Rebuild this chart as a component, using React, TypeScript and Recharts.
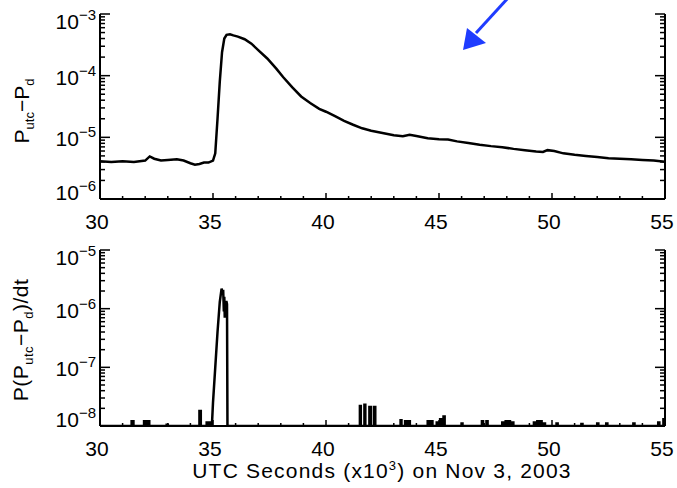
import React from "react";
import { LineChart, Line, XAxis, YAxis } from "recharts";

const FONT = "'Liberation Sans', Arial, Helvetica, sans-serif";

// top panel: P_utc - P_d (time in 10^3 s, value)
const flux: [number, number][] = [
  [30.0, 4.1e-6], [30.5, 4.0e-6], [31.0, 4.1e-6], [31.5, 4.0e-6], [32.0, 4.2e-6],
  [32.2, 4.9e-6], [32.4, 4.5e-6], [32.7, 4.2e-6], [33.0, 4.3e-6], [33.4, 4.4e-6],
  [33.7, 4.2e-6], [34.0, 3.8e-6], [34.2, 3.6e-6], [34.4, 3.7e-6], [34.6, 3.9e-6],
  [34.8, 3.9e-6], [35.0, 4.2e-6], [35.1, 5.5e-6], [35.2, 2.0e-5], [35.3, 8.0e-5],
  [35.4, 2.4e-4], [35.5, 4.0e-4], [35.6, 4.6e-4], [35.75, 4.7e-4], [35.9, 4.5e-4],
  [36.1, 4.3e-4], [36.4, 3.9e-4], [36.7, 3.3e-4], [37.0, 2.6e-4], [37.4, 1.9e-4],
  [37.8, 1.3e-4], [38.1, 9.5e-5], [38.5, 6.5e-5], [38.9, 4.6e-5], [39.3, 3.6e-5],
  [39.7, 2.9e-5], [40.0, 2.6e-5], [40.4, 2.2e-5], [40.8, 1.85e-5], [41.2, 1.6e-5],
  [41.6, 1.4e-5], [42.0, 1.28e-5], [42.5, 1.18e-5], [43.0, 1.08e-5], [43.4, 1.04e-5],
  [43.7, 1.1e-5], [44.0, 1.05e-5], [44.5, 9.7e-6], [45.0, 9.3e-6], [45.4, 9.2e-6],
  [45.8, 8.6e-6], [46.3, 8.1e-6], [46.8, 7.6e-6], [47.3, 7.2e-6], [47.8, 6.9e-6],
  [48.3, 6.5e-6], [48.8, 6.2e-6], [49.3, 5.9e-6], [49.6, 5.8e-6], [49.8, 6.2e-6],
  [50.1, 6.0e-6], [50.5, 5.5e-6], [51.0, 5.2e-6], [51.5, 5.0e-6], [52.0, 4.8e-6],
  [52.5, 4.6e-6], [53.0, 4.5e-6], [53.5, 4.4e-6], [54.0, 4.3e-6], [54.5, 4.2e-6],
  [55.0, 4.0e-6],
];

// bottom panel: derivative, main burst drawn as a continuous trace
const burst: [number, number][] = [
  [34.95, 1e-8], [35.0, 2.5e-8], [35.1, 1.0e-7], [35.2, 4.0e-7], [35.3, 1.3e-6],
  [35.38, 2.2e-6], [35.42, 1.8e-6], [35.45, 2.1e-6], [35.48, 9.0e-7], [35.5, 1.6e-6],
  [35.52, 7.0e-7], [35.55, 1.3e-6], [35.6, 1.3e-6], [35.62, 1.2e-6], [35.64, 1e-8],
];

// isolated spikes: [start, width, value]
const spikes: [number, number, number][] = [
  [31.4, 0.08, 1.2e-8], [31.95, 0.08, 1.2e-8], [32.1, 0.08, 1.2e-8], [32.95, 0.05, 1.05e-8],
  [34.4, 0.06, 1.8e-8], [34.72, 0.08, 1.15e-8], [34.86, 0.08, 1.15e-8],
  [41.5, 0.04, 2.2e-8], [41.7, 0.04, 2.3e-8], [41.92, 0.06, 2.1e-8], [42.12, 0.06, 2.1e-8],
  [43.3, 0.04, 1.25e-8], [43.5, 0.08, 1.2e-8], [43.65, 0.06, 1.2e-8], [44.5, 0.08, 1.2e-8],
  [44.65, 0.06, 1.2e-8], [44.9, 0.06, 1.15e-8], [45.05, 0.06, 1.3e-8], [45.2, 0.05, 1.45e-8],
  [46.0, 0.04, 1.1e-8], [46.9, 0.05, 1.2e-8], [47.1, 0.05, 1.2e-8], [47.8, 0.04, 1.15e-8],
  [47.95, 0.04, 1.2e-8], [48.1, 0.04, 1.2e-8], [48.25, 0.04, 1.15e-8], [49.2, 0.04, 1.15e-8],
  [49.35, 0.04, 1.2e-8], [49.5, 0.04, 1.2e-8], [49.65, 0.04, 1.1e-8], [50.2, 0.05, 1.1e-8],
  [51.3, 0.05, 1.08e-8], [52.0, 0.05, 1.1e-8], [52.4, 0.05, 1.1e-8], [53.6, 0.05, 1.1e-8],
  [54.7, 0.05, 1.15e-8], [54.93, 0.05, 1.3e-8],
];

const xTicks = [30, 31, 32, 33, 34, 35, 36, 37, 38, 39, 40, 41, 42, 43, 44, 45, 46, 47, 48, 49, 50, 51, 52, 53, 54, 55];
const topDecades = [-6, -3];
const botDecades = [-8, -5];

const BASE = 1e-8;

function logTicks([lo, hi]: number[]) {
  const out: number[] = [];
  for (let e = lo; e < hi; e++) {
    for (let m = 1; m <= 9; m++) out.push(m * Math.pow(10, e));
  }
  out.push(Math.pow(10, hi));
  return out;
}

const topData = flux.map(([t, v]) => ({ t, v }));

const botData = (() => {
  const pts: { t: number; v: number }[] = [{ t: 30, v: BASE }];
  const segs: { t: number; v: number }[][] = spikes.map(([s, w, v]) => [
    { t: s, v: BASE }, { t: s, v }, { t: s + w, v }, { t: s + w, v: BASE },
  ]);
  segs.push(burst.map(([t, v]) => ({ t, v })));
  segs.sort((a, b) => a[0].t - b[0].t);
  segs.forEach(s => pts.push(...s));
  pts.push({ t: 55, v: BASE });
  return pts;
})();

const isDecade = (v: number) => Math.abs(Math.log10(v) - Math.round(Math.log10(v))) < 1e-6;

const YTick = (props: any) => {
  const { x, y, payload, side, range } = props;
  const v = payload.value;
  const major = isDecade(v);
  const len = major ? 10 : 5;
  const dir = side === "left" ? 1 : -1;
  const exp = Math.round(Math.log10(v));
  let shift = 9;
  if (exp === range[1]) shift = 15;
  if (exp === range[0]) shift = 1;
  return (
    <g>
      <line x1={x} x2={x + dir * len} y1={y} y2={y} stroke="#000" strokeWidth={1.5} />
      {side === "left" && major && (
        <text x={x - 4} y={y + shift} textAnchor="end" fontSize={21} fontFamily={FONT} fill="#000">
          10<tspan dy={-9} fontSize={15}>{"\u2212" + Math.abs(exp)}</tspan>
        </text>
      )}
    </g>
  );
};

const XTick = (props: any) => {
  const { x, y, payload, side } = props;
  const v = payload.value;
  const major = v % 5 === 0;
  const len = major ? 6 : 3;
  const dir = side === "top" ? 1 : -1;
  return (
    <g>
      <line x1={x} x2={x} y1={y} y2={y + dir * len} stroke="#000" strokeWidth={1.5} />
      {side === "bottom" && major && (
        <text x={x - 3} y={y + 30} textAnchor="middle" fontSize={21} fontFamily={FONT} fill="#000">
          {v}
        </text>
      )}
    </g>
  );
};

const axisLine = { stroke: "#000", strokeWidth: 2 };

function Panel({ data, decades, height, top, bottom }: any) {
  const yTicks = logTicks(decades);
  const domain = [Math.pow(10, decades[0]), Math.pow(10, decades[1])];
  return (
    <LineChart width={677} height={height} data={data} margin={{ top, right: 0, bottom: 0, left: 0 }}>
      <XAxis
        xAxisId="b" dataKey="t" type="number" domain={[30, 55]} ticks={xTicks} interval={0}
        allowDataOverflow height={bottom} tickSize={0} tickMargin={0} axisLine={axisLine}
        tickLine={false} tick={(p: any) => <XTick {...p} side="bottom" />}
      />
      <XAxis
        xAxisId="t" orientation="top" type="number" domain={[30, 55]} ticks={xTicks} interval={0}
        allowDataOverflow height={0} tickSize={0} tickMargin={0} axisLine={axisLine}
        tickLine={false} tick={(p: any) => <XTick {...p} side="top" />}
      />
      <YAxis
        yAxisId="l" type="number" scale="log" domain={domain} ticks={yTicks} interval={0}
        allowDataOverflow width={100} tickSize={0} tickMargin={0} axisLine={axisLine}
        tickLine={false} tick={(p: any) => <YTick {...p} side="left" range={decades} />}
      />
      <YAxis
        yAxisId="r" orientation="right" type="number" scale="log" domain={domain} ticks={yTicks}
        interval={0} allowDataOverflow width={12} tickSize={0} tickMargin={0} axisLine={axisLine}
        tickLine={false} tick={(p: any) => <YTick {...p} side="right" range={decades} />}
      />
      <Line
        xAxisId="b" yAxisId="l" dataKey="v" type="linear" stroke="#000" strokeWidth={2.5}
        dot={false} isAnimationActive={false}
      />
    </LineChart>
  );
}

export default function App() {
  return (
    <div style={{ position: "absolute", top: 0, left: 0, width: 677, height: 488, background: "#fff" }}>
      <div style={{ position: "absolute", top: 0, left: 0 }}>
        <Panel data={topData} decades={topDecades} height={240} top={14} bottom={41} />
      </div>
      <div style={{ position: "absolute", top: 230, left: 0 }}>
        <Panel data={botData} decades={botDecades} height={258} top={20} bottom={62} />
      </div>
      <svg width={677} height={488} style={{ position: "absolute", top: 0, left: 0, pointerEvents: "none" }}>
        <g transform="translate(29,111) rotate(-90)">
          <text x={0} y={0} textAnchor="middle" fontSize={21} fontFamily={FONT} fill="#000">
            P<tspan dy={5} fontSize={13}>utc</tspan>
            <tspan dy={-5}>{"\u2212P"}</tspan>
            <tspan dy={5} fontSize={13}>d</tspan>
          </text>
        </g>
        <g transform="translate(28,340) rotate(-90)">
          <text x={0} y={0} textAnchor="middle" fontSize={21} fontFamily={FONT} fill="#000" letterSpacing={0.5}>
            P(P<tspan dy={5} fontSize={13}>utc</tspan>
            <tspan dy={-5}>{"\u2212P"}</tspan>
            <tspan dy={5} fontSize={13}>d</tspan>
            <tspan dy={-5}>)/dt</tspan>
          </text>
        </g>
        <text x={382} y={478} textAnchor="middle" fontSize={21} fontFamily={FONT} fill="#000" letterSpacing={1.2}>
          UTC Seconds (x10<tspan dy={-8} fontSize={13}>3</tspan>
          <tspan dy={8}>) on Nov 3, 2003</tspan>
        </text>
        <line x1={508} y1={-2} x2={476} y2={33} stroke="#1f3cff" strokeWidth={3} />
        <polygon points="463,50 467,28 486,43" fill="#1f3cff" />
      </svg>
    </div>
  );
}
